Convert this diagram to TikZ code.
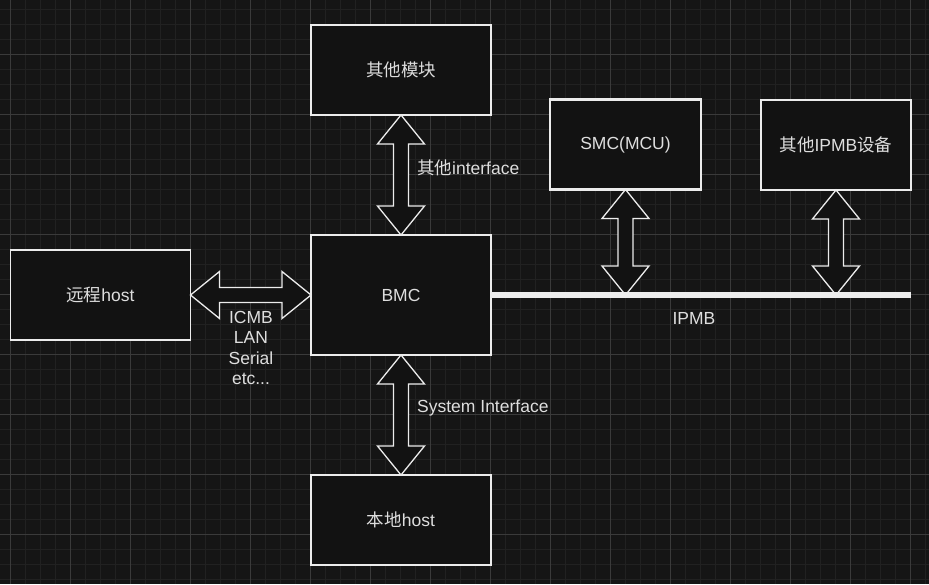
\documentclass[tikz,border=0pt]{standalone}
\usepackage{fontspec}
\setmainfont{Liberation Sans}
\newfontfamily\cjk{Noto Sans CJK SC}
\usetikzlibrary{calc}
\definecolor{bg}{RGB}{21,21,21}
\definecolor{gridminor}{RGB}{33,33,33}
\definecolor{gridmajor}{RGB}{58,58,58}
\definecolor{boxfill}{RGB}{18,18,18}
\definecolor{strokec}{RGB}{236,236,236}
\definecolor{txt}{RGB}{222,222,222}
\tikzset{
  lbl/.style={font=\fontsize{17.5}{20.5}\selectfont, text=txt, inner sep=0pt},
  boxnode/.style={lbl, draw=strokec, fill=boxfill, line width=1.2pt, rectangle, outer sep=0pt, minimum width=180pt, minimum height=90pt},
  arrowshape/.style={draw=strokec, fill=boxfill, line width=1.3pt, line join=miter},
  bus/.style={draw=strokec, line width=6pt, line cap=butt}
}
\newcommand\vdblarrow[2]{%
  \path[arrowshape] (#1) -- ++(23.5,29) -- ++(-16,0) -- ($(#2)+(7.5,-29)$) -- ++(16,0) -- (#2)
    -- ++(-23.5,-29) -- ++(16,0) -- ($(#1)+(-7.5,29)$) -- ++(-16,0) -- cycle;}
\newcommand\hdblarrow[2]{%
  \path[arrowshape] (#1) -- ++(29,-23.5) -- ++(0,16) -- ($(#2)+(-29,-7.5)$) -- ++(0,-16) -- (#2)
    -- ++(-29,23.5) -- ++(0,-16) -- ($(#1)+(29,7.5)$) -- ++(0,16) -- cycle;}
\begin{document}
\begin{tikzpicture}[x=1pt,y=-1pt]
  \fill[bg] (0,0) rectangle (929,584);
  \useasboundingbox (0,0) rectangle (929,584);
  % grid
  \foreach \gx in {10,25,...,925} \draw[gridminor, line width=1pt] (\gx,0) -- (\gx,584);
  \foreach \gy in {9,24,...,580} \draw[gridminor, line width=1pt] (0,\gy) -- (929,\gy);
  \foreach \gx in {10,70,...,910} \draw[gridmajor, line width=1pt] (\gx,0) -- (\gx,584);
  \foreach \gy in {54,114,...,534} \draw[gridmajor, line width=1pt] (0,\gy) -- (929,\gy);

  % boxes
  \node[boxnode] (other) at (401,70) {{\cjk 其他模块}};
  \node[boxnode, minimum height=120pt] (bmc) at (401,295) {BMC};
  \node[boxnode] (local) at (401,520) {{\cjk 本地}host};
  \node[boxnode] (remote) at (100.5,295) {{\cjk 远程}host};
  \node[boxnode, minimum width=151pt, line width=2.4pt] (smc) at (625.5,144.5) {SMC(MCU)};
  \node[boxnode, minimum width=150pt] (ipmbdev) at (836,145) {{\cjk 其他}IPMB{\cjk 设备}};

  % bus coordinates
  \coordinate (busend) at (911,295);
  \coordinate (smcbus) at (smc.south |- busend);
  \coordinate (devbus) at (ipmbdev.south |- busend);

  % arrows
  \vdblarrow{other.south}{bmc.north}
  \vdblarrow{bmc.south}{local.north}
  \hdblarrow{remote.east}{bmc.west}
  \vdblarrow{smc.south}{smcbus}
  \vdblarrow{ipmbdev.south}{devbus}

  % IPMB bus
  \draw[bus] (bmc.east) -- (busend);

  % labels
  \node[lbl, anchor=west] (lblother) at (417,168) {{\cjk 其他}interface};
  \node[lbl, anchor=west] (lblsys) at (417,408) {System Interface};
  \node[lbl, align=center] (lblicmb) at (251,348) {ICMB\\LAN\\Serial\\etc...};
  \node[lbl] (lblipmb) at (694,318) {IPMB};
\end{tikzpicture}
\end{document}
